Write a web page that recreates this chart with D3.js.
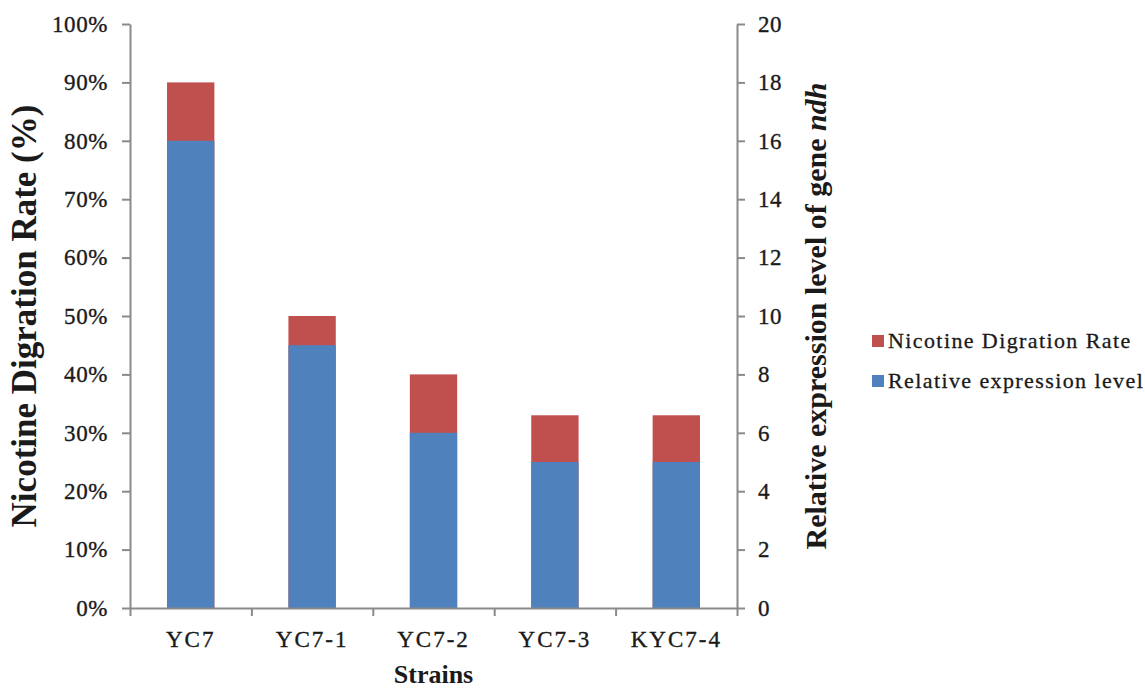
<!DOCTYPE html>
<html>
<head>
<meta charset="utf-8">
<script src="https://cdn.jsdelivr.net/npm/d3@7"></script>
<style>
  html, body { margin: 0; padding: 0; background: #fff; }
  svg { display: block; }
  text { font-family: "Liberation Serif", "Times New Roman", serif; fill: #1a1a1a; }
</style>
</head>
<body>
<svg id="chart" width="1145" height="689"></svg>
<script>
// Strains and measured values
const strains = ["YC7", "YC7-1", "YC7-2", "YC7-3", "KYC7-4"];
const digestionRate = [0.90, 0.50, 0.40, 0.33, 0.33];   // left axis, fraction
const expressionLevel = [16, 9, 6, 5, 5];              // right axis
const leftTicks = [0, 0.1, 0.2, 0.3, 0.4, 0.5, 0.6, 0.7, 0.8, 0.9, 1.0];
const rightTicks = [0, 2, 4, 6, 8, 10, 12, 14, 16, 18, 20];
const seriesNames = ["Nicotine Digration Rate", "Relative expression level"];
const seriesColors = ["#C0504D", "#4F81BD"];

const svg = d3.select("#chart");
const plot = { left: 130, right: 737, top: 24, bottom: 608 };
const axisColor = "#8a8a8a";

const x = d3.scaleBand().domain(strains).range([plot.left, plot.right]).paddingInner(0.61).paddingOuter(0.305);
const xEdges = d3.scaleLinear().domain([0, strains.length]).range([plot.left, plot.right]);
const yL = d3.scaleLinear().domain([0, 1]).range([plot.bottom, plot.top]);
const yR = d3.scaleLinear().domain([0, 20]).range([plot.bottom, plot.top]);

// Digestion-rate bars, with the expression bars drawn over them
svg.append("g").selectAll("rect").data(strains).join("rect")
  .attr("x", d => x(d)).attr("width", x.bandwidth())
  .attr("y", (d, i) => yL(digestionRate[i]))
  .attr("height", (d, i) => yL(0) - yL(digestionRate[i]))
  .attr("fill", seriesColors[0]);

svg.append("g").selectAll("rect").data(strains).join("rect")
  .attr("x", d => x(d)).attr("width", x.bandwidth())
  .attr("y", (d, i) => yR(expressionLevel[i]))
  .attr("height", (d, i) => yR(0) - yR(expressionLevel[i]))
  .attr("fill", seriesColors[1]);

function styleAxis(g) {
  g.selectAll("path, line").attr("stroke", axisColor).attr("stroke-width", 2);
  g.selectAll("text").attr("fill", "#1a1a1a")
    .attr("stroke", "#1a1a1a").attr("stroke-width", 0.35)
    .style("font-family", '"Liberation Serif", "Times New Roman", serif')
    .style("font-size", "23px").style("letter-spacing", "0.6px");
}

// Left axis (percent)
svg.append("g").attr("transform", `translate(${plot.left},0)`)
  .call(d3.axisLeft(yL).tickValues(leftTicks).tickFormat(d3.format(".0%")).tickSize(8).tickSizeOuter(0).tickPadding(14))
  .call(styleAxis);

// Right axis (expression level)
svg.append("g").attr("transform", `translate(${plot.right},0)`)
  .call(d3.axisRight(yR).tickValues(rightTicks).tickSize(8).tickSizeOuter(0).tickPadding(13))
  .call(styleAxis);

// Bottom axis: boundary ticks between categories
svg.append("g").attr("transform", `translate(0,${plot.bottom})`)
  .call(d3.axisBottom(xEdges).tickValues(d3.range(strains.length + 1)).tickFormat("").tickSize(8).tickSizeOuter(0))
  .call(styleAxis);

// Bottom axis: category labels
svg.append("g").attr("transform", `translate(0,${plot.bottom})`)
  .call(d3.axisBottom(x).tickSize(0).tickPadding(23))
  .call(g => g.select(".domain").remove())
  .call(styleAxis)
  .selectAll("text").style("letter-spacing", "2px");

// Axis titles
svg.append("text")
  .attr("transform", `translate(36,${(plot.top + plot.bottom) / 2}) rotate(-90)`)
  .attr("text-anchor", "middle")
  .style("font-size", "35px").style("font-weight", "bold")
  .text("Nicotine Digration  Rate (%)");

const rt = svg.append("text")
  .attr("transform", `translate(826,${(plot.top + plot.bottom) / 2}) rotate(-90)`)
  .attr("text-anchor", "middle")
  .style("font-size", "30px").style("font-weight", "bold");
rt.append("tspan").text("Relative expression level of gene ");
rt.append("tspan").style("font-style", "italic").text("ndh");

svg.append("text")
  .attr("x", (plot.left + plot.right) / 2).attr("y", 683)
  .attr("text-anchor", "middle")
  .style("font-size", "26px").style("font-weight", "bold")
  .text("Strains");

// Legend
const legend = svg.append("g").attr("transform", "translate(872,341)");
const items = legend.selectAll("g").data(seriesNames).join("g")
  .attr("transform", (d, i) => `translate(0,${i * 40})`);
items.append("rect").attr("x", 0).attr("y", -6).attr("width", 12).attr("height", 12)
  .attr("fill", (d, i) => seriesColors[i]);
items.append("text").attr("x", 16).attr("y", 7)
  .attr("stroke", "#1a1a1a").attr("stroke-width", 0.3)
  .style("font-size", "22px").style("letter-spacing", "1.4px")
  .text(d => d);
</script>
</body>
</html>
